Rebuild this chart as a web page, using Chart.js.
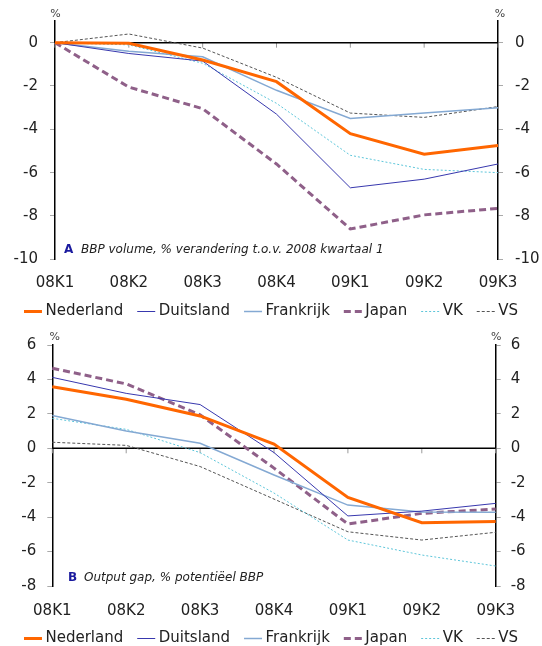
<!DOCTYPE html>
<html><head><meta charset="utf-8">
<script src="https://cdn.jsdelivr.net/npm/chart.js@4.4.1/dist/chart.umd.min.js"></script>
<style>
html,body{margin:0;padding:0;background:#fff;}
#wrap{position:relative;width:542px;height:646px;overflow:hidden;background:#fff;}
.box{position:absolute;left:0;width:542px;}
</style></head><body>
<div id="wrap">
<div class="box" style="top:0;height:329px"><canvas id="c1" width="542" height="329"></canvas></div>
<div class="box" style="top:325px;height:331px"><canvas id="c2" width="542" height="331"></canvas></div>
</div>
<script>
// ---- data ----
const categories = ['08K1','08K2','08K3','08K4','09K1','09K2','09K3'];
const seriesNames = ['Nederland','Duitsland','Frankrijk','Japan','VK','VS'];

// Panel A: BBP volume, % verandering t.o.v. 2008 kwartaal 1
const volNL = [0, -0.03, -0.8, -1.8, -4.2, -5.15, -4.75];
const volDE = [0, -0.5, -0.85, -3.3, -6.7, -6.3, -5.6];
const volFR = [0, -0.4, -0.65, -2.2, -3.5, -3.25, -3.0];
const volJP = [0, -2.05, -3.05, -5.6, -8.6, -7.95, -7.65];
const volUK = [0, -0.1, -0.95, -2.8, -5.2, -5.85, -6.0];
const volUS = [0, 0.4, -0.25, -1.6, -3.25, -3.45, -2.95];

// Panel B: Output gap, % potentieel BBP
const gapNL = [3.58, 2.85, 1.88, 0.25, -2.85, -4.32, -4.26];
const gapDE = [4.12, 3.19, 2.54, -0.25, -3.93, -3.65, -3.2];
const gapFR = [1.9, 1.0, 0.29, -1.55, -3.3, -3.7, -3.72];
const gapJP = [4.65, 3.74, 1.94, -1.15, -4.4, -3.78, -3.53];
const gapUK = [1.74, 1.1, -0.25, -2.6, -5.33, -6.2, -6.84];
const gapUS = [0.35, 0.17, -1.06, -2.95, -4.85, -5.33, -4.88];

const yTicksA = [-10, -8, -6, -4, -2, 0];
const yTicksB = [-8, -6, -4, -2, 0, 2, 4, 6];

// ---- styles ----
const FONT = '"DejaVu Sans", Verdana, sans-serif';
const seriesStyles = [
  {borderColor:'#FF6600', borderWidth:3},
  {borderColor:'#3838AE', borderWidth:1},
  {borderColor:'#84A9D3', borderWidth:1.5},
  {borderColor:'#8F6089', borderWidth:3, borderDash:[7,4]},
  {borderColor:'#5EC6DA', borderWidth:1, borderDash:[2,2]},
  {borderColor:'#555555', borderWidth:1, borderDash:[3,2]}
];

function makeDatasets(arrays){
  return arrays.map((d,i)=>Object.assign({
    label: seriesNames[i], data: d, yAxisID:'y',
    pointRadius:0, pointHoverRadius:0, tension:0, fill:false
  }, seriesStyles[i]));
}

const decor = {
  id:'decor',
  beforeDatasetsDraw(chart, args, o){
    const {ctx, chartArea:a, scales:{x,y}} = chart;
    const y0 = y.getPixelForValue(0);
    ctx.save();
    ctx.strokeStyle='#9a9a9a'; ctx.lineWidth=1;
    x.ticks.forEach((t,i)=>{
      const px = x.getPixelForTick(i);
      ctx.beginPath(); ctx.moveTo(px, y0); ctx.lineTo(px, y0+5); ctx.stroke();
    });
    ctx.strokeStyle='#000'; ctx.lineWidth=1.5;
    ctx.beginPath(); ctx.moveTo(a.left,y0); ctx.lineTo(a.right,y0); ctx.stroke();
    ctx.restore();
  },
  afterDraw(chart, args, o){
    const {ctx, chartArea:a} = chart;
    ctx.save();
    ctx.fillStyle='#444'; ctx.font='11px '+FONT; ctx.textAlign='center'; ctx.textBaseline='middle';
    ctx.fillText('%', a.left + o.pctDx, a.top + o.pctDy);
    ctx.fillText('%', a.right + o.pctDx2, a.top + o.pctDy);
    ctx.textAlign='left'; ctx.textBaseline='alphabetic';
    ctx.font='bold 12px '+FONT; ctx.fillStyle='#1a1a9e';
    ctx.fillText(o.letter, o.noteX, o.noteY);
    ctx.font='italic 12px '+FONT; ctx.fillStyle='#222';
    ctx.fillText(o.note, o.textX, o.noteY);
    // legend line samples (with the datasets' dash styles)
    const lg = chart.legend;
    if (lg && lg.legendHitBoxes) {
      lg.legendHitBoxes.forEach((hb, i) => {
        const ds = chart.data.datasets[i];
        const cy = hb.top + hb.height/2;
        ctx.save();
        ctx.strokeStyle = ds.borderColor; ctx.lineWidth = ds.borderWidth;
        ctx.setLineDash(ds.borderDash || []); ctx.lineCap='butt';
        ctx.beginPath(); ctx.moveTo(hb.left, cy); ctx.lineTo(hb.left + 18, cy); ctx.stroke();
        ctx.restore();
      });
    }
    ctx.restore();
  }
};

function yAxis(pos, min, max, width, pad, ticksList){
  return {
    position:pos, min:min, max:max,
    afterBuildTicks: s => { s.ticks = ticksList.map(v=>({value:v})); },
    afterFit: s => { s.width = width; },
    grid:{drawOnChartArea:false, drawTicks:true, tickLength:5, color:'#aaaaaa', lineWidth:1},
    border:{display:true, color:'#000', width:1.5},
    ticks:{padding:pad, font:{size:15, family:FONT}, color:'#222'}
  };
}

function makeChart(id, arrays, cfg){
  return new Chart(document.getElementById(id), {
    type:'line',
    data:{labels:categories, datasets:makeDatasets(arrays)},
    options:{
      responsive:false, animation:false, devicePixelRatio:1,
      layout:{padding:{top:cfg.top, left:0, right:0, bottom:0}},
      scales:{
        x:{
          offset:false,
          afterFit: s => { s.height = cfg.xh; },
          grid:{display:false, drawTicks:false},
          border:{display:false},
          ticks:{padding:cfg.xpad, font:{size:15, family:FONT}, color:'#222', maxRotation:0, autoSkip:false}
        },
        y: yAxis('left', cfg.min, cfg.max, cfg.lw, cfg.lpad, cfg.ticks),
        y2: yAxis('right', cfg.min, cfg.max, cfg.rw, cfg.rpad, cfg.ticks)
      },
      plugins:{
        legend:{
          position:'bottom', align:'center',
          labels:{
            usePointStyle:false, boxWidth:14, boxHeight:2,
            padding:14, font:{size:15, family:FONT}, color:'#222',
            generateLabels: chart => Chart.defaults.plugins.legend.labels.generateLabels(chart)
              .map(it => Object.assign(it, {lineWidth:0, fillStyle:'rgba(0,0,0,0)', strokeStyle:'rgba(0,0,0,0)'}))
          }
        },
        tooltip:{enabled:false},
        decor:cfg.decor
      }
    },
    plugins:[decor]
  });
}

makeChart('c1', [volNL, volDE, volFR, volJP, volUK, volUS], {
  top:21, min:-10, max:1, ticks:yTicksA, lw:55, rw:44, lpad:12, rpad:12, xh:30.7, xpad:15,
  decor:{pctDx:0.5, pctDx2:2, pctDy:-7, letter:'A', note:'BBP volume, % verandering t.o.v. 2008 kwartaal 1', noteX:64, textX:81, noteY:253}
});
makeChart('c2', [gapNL, gapDE, gapFR, gapJP, gapUK, gapUS], {
  top:20, min:-8, max:6, ticks:yTicksB, lw:52.3, rw:46.3, lpad:11, rpad:10, xh:31, xpad:16,
  decor:{pctDx:2.5, pctDx2:0.5, pctDy:-8, letter:'B', note:'Output gap, % potentiëel BBP', noteX:68, textX:84, noteY:256}
});
</script>
</body></html>
